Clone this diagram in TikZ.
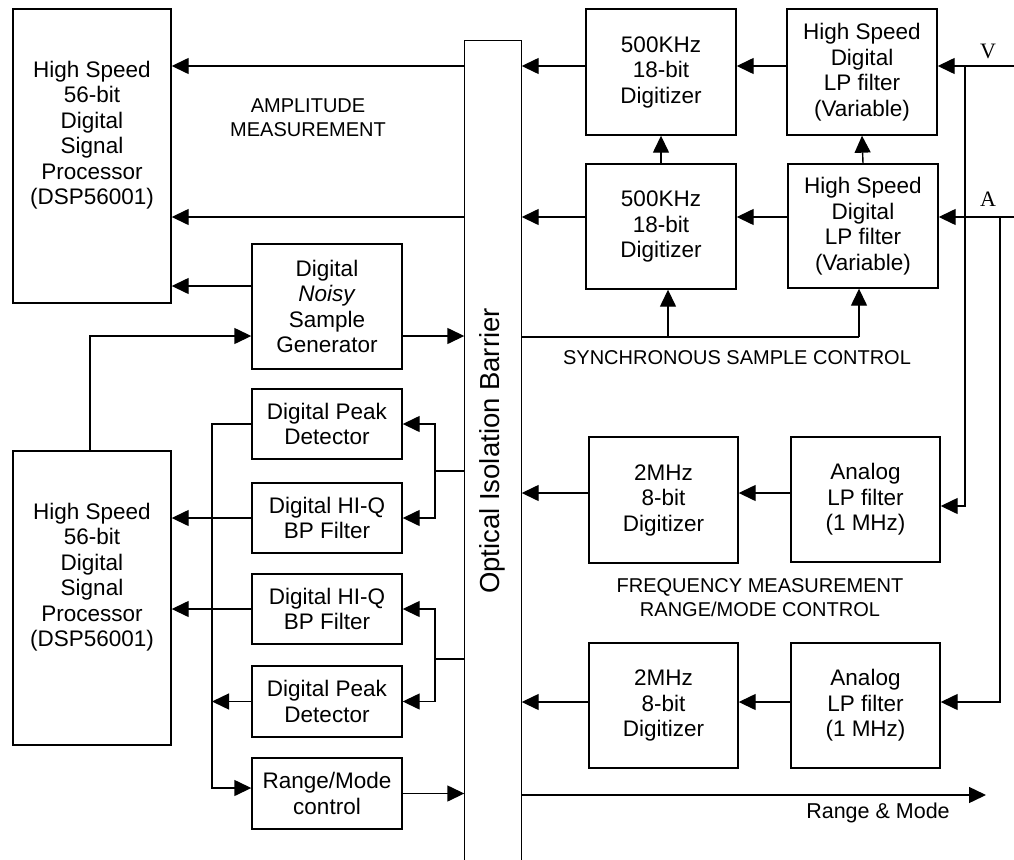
\documentclass[tikz,border=0pt]{standalone}
\usepackage{fontspec}
\setmainfont{Liberation Sans}
\newfontfamily\serifv{Liberation Serif}
\usetikzlibrary{arrows.meta,calc}
\begin{document}
\begin{tikzpicture}[x=1pt,y=-1pt,line width=1.4pt,
  box/.style={draw, rectangle, minimum width=150pt, align=center, inner sep=0pt,
              font=\fontsize{22.5}{25.5}\selectfont},
  txt/.style={align=center, inner sep=0pt, font=\fontsize{22.5}{25.5}\selectfont},
  lbl/.style={align=center, inner sep=0pt, font=\fontsize{20}{24}\selectfont},
  arr/.style={-{Triangle[length=17pt,width=16pt]}}]
\useasboundingbox (0,0) rectangle (1014,859);

% ---------- boxes ----------
\node[box, minimum width=158pt, minimum height=294pt] (dsp1) at (92,156) {};
\node[txt] (dsp1t) at (92,135) {High Speed\\56-bit\\Digital\\Signal\\Processor\\(DSP56001)};
\node[box, minimum width=158pt, minimum height=294pt] (dsp2) at (92,598) {};
\node[txt] (dsp2t) at (92,577) {High Speed\\56-bit\\Digital\\Signal\\Processor\\(DSP56001)};

\node[box, minimum height=125pt] (gen) at (327,306.5) {Digital\\\textit{Noisy}\\Sample\\Generator};
\node[box, minimum height=70pt] (pk1) at (327,424) {Digital Peak\\Detector};
\node[box, minimum height=70pt] (hq1) at (327,518) {Digital HI-Q\\BP Filter};
\node[box, minimum height=70pt] (hq2) at (327,609) {Digital HI-Q\\BP Filter};
\node[box, minimum height=71pt] (pk2) at (327,701.5) {Digital Peak\\Detector};
\node[box, minimum height=71pt] (rm) at (327,793.5) {Range/Mode\\control};

\node[minimum width=56pt, minimum height=839pt, inner sep=0pt] (bar) at (493,460.5) {};
\draw (bar.south west) -- (bar.north west) -- (bar.north east) -- (bar.south east);
\node[align=center, inner sep=0pt, font=\fontsize{27.5}{30}\selectfont, rotate=90] (bart) at (492,451) {Optical Isolation Barrier};

\node[box, minimum height=126pt] (dg1) at (661,72) {500KHz\\18-bit\\Digitizer};
\node[box, minimum height=125pt] (dg2) at (661,226.5) {500KHz\\18-bit\\Digitizer};
\node[box, minimum height=126pt] (lp1) at (862,72) {High Speed\\Digital\\LP filter\\(Variable)};
\node[box, minimum height=124pt] (lp2) at (863,226) {High Speed\\Digital\\LP filter\\(Variable)};
\node[box, minimum width=149pt, minimum height=126pt] (md1) at (663.5,500) {2MHz\\8-bit\\Digitizer};
\node[box, minimum width=149pt, minimum height=125pt] (md2) at (663.5,705.5) {2MHz\\8-bit\\Digitizer};
\node[box, minimum width=149pt, minimum height=125pt] (an1) at (865.5,499.5) {Analog\\LP filter\\(1 MHz)};
\node[box, minimum width=149pt, minimum height=125pt] (an2) at (865.5,705.5) {Analog\\LP filter\\(1 MHz)};

% ---------- labels ----------
\node[lbl] (amp) at (308,118) {AMPLITUDE\\MEASUREMENT};
\node[lbl] (syn) at (737,358) {SYNCHRONOUS SAMPLE CONTROL};
\node[lbl] (frq) at (760,598) {FREQUENCY MEASUREMENT\\RANGE/MODE CONTROL};
\node[inner sep=0pt, font=\serifv\fontsize{22}{24}\selectfont] (vl) at (988,51) {V};
\node[inner sep=0pt, font=\serifv\fontsize{22}{24}\selectfont] (al) at (988,199) {A};
\node[inner sep=0pt, font=\fontsize{21.5}{24}\selectfont] (rmt) at (878,813) {Range \& Mode};

% ---------- helper coordinates ----------
\coordinate (vin) at (1014,66);
\coordinate (ain) at (1014,217);
\coordinate (vdrop) at (965,66);
\coordinate (adrop) at (1000,217);
\coordinate (r286) at (0,286);
\coordinate (r336) at (0,336);
\coordinate (r471) at (0,471);
\coordinate (r493) at (0,493);
\coordinate (r506) at (0,506);
\coordinate (r659) at (0,659);
\coordinate (r702) at (0,702);
\coordinate (r788) at (0,788);
\coordinate (r795) at (0,795);
\coordinate (c90) at (90,0);
\coordinate (c212) at (212,0);
\coordinate (c435) at (435,0);
\coordinate (s1) at (668,337);
\coordinate (s2) at (859,337);
\coordinate (rmout) at (986,795);

% ---------- amplitude path ----------
\draw[arr] (vin) -- (lp1.east |- vin);
\draw[arr] (lp1.west |- vin) -- (dg1.east |- vin);
\draw[arr] (dg1.west |- vin) -- (bar.east |- vin);
\draw[arr] (bar.west |- vin) -- (dsp1.east |- vin);
\draw[arr] (ain) -- (lp2.east |- ain);
\draw[arr] (lp2.west |- ain) -- (dg2.east |- ain);
\draw[arr] (dg2.west |- ain) -- (bar.east |- ain);
\draw[arr] (bar.west |- ain) -- (dsp1.east |- ain);
\draw[arr] (dg2.north) -- (dg1.south);
\draw[arr] (lp2.north) -- (lp1.south);
\draw (bar.east |- s1) -- (s2);
\draw[arr] (s1) -- (s1 |- dg2.south);
\draw[arr] (s2) -- (s2 |- lp2.south);

% ---------- noisy generator ----------
\draw[arr] (gen.west |- r286) -- (dsp1.east |- r286);
\draw[arr] (dsp2.north -| c90) |- (gen.west |- r336);
\draw[arr] (gen.east |- r336) -- (bar.west |- r336);

% ---------- frequency path (left) ----------
\draw (bar.west |- r471) -- (c435 |- r471);
\draw[arr] (c435 |- r471) |- (pk1.east);
\draw[arr] (c435 |- r471) |- (hq1.east);
\draw (bar.west |- r659) -- (c435 |- r659);
\draw[arr] (c435 |- r659) |- (hq2.east);
\draw[arr] (c435 |- r659) |- (pk2.east);
\draw[arr] (hq1.west) -- (dsp2.east |- hq1.west);
\draw[arr] (hq2.west) -- (dsp2.east |- hq2.west);
\draw[arr] (pk1.west) -| (c212 |- r788) -- (rm.west |- r788);
\draw[arr] (pk2.west) -- (c212 |- pk2.west);
\draw[arr] (rm.east) -- (bar.west |- rm.east);
\draw[arr] (bar.east |- r795) -- (rmout);

% ---------- frequency path (right) ----------
\draw[arr] (vdrop) |- (an1.east |- r506);
\draw[arr] (adrop) |- (an2.east |- r702);
\draw[arr] (an1.west |- r493) -- (md1.east |- r493);
\draw[arr] (md1.west |- r493) -- (bar.east |- r493);
\draw[arr] (an2.west |- r702) -- (md2.east |- r702);
\draw[arr] (md2.west |- r702) -- (bar.east |- r702);
\end{tikzpicture}
\end{document}
